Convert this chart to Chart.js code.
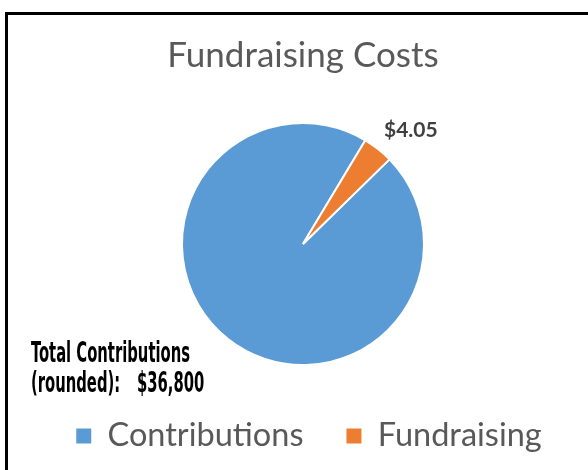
<!DOCTYPE html>
<html>
<head>
<meta charset="utf-8">
<script src="https://cdn.jsdelivr.net/npm/chart.js@4.4.0/dist/chart.umd.min.js"></script>
<style>
  html, body { margin: 0; padding: 0; background: #fff; }
  #wrap { position: relative; width: 588px; height: 470px; overflow: hidden; }
  #frame { position: absolute; left: 5px; top: 12px; width: 620px; height: 500px;
           border-left: 3px solid #000; border-top: 3px solid #000; }
  canvas { position: absolute; left: 0; top: 0; }
</style>
</head>
<body>
<div id="wrap">
  <canvas id="pieChart" width="588" height="470"></canvas>
  <div id="frame"></div>
</div>
<script>
// chart data
const categories = ['Contributions', 'Fundraising'];
const values = [95.95, 4.05];
const sliceColors = ['#5B9BD5', '#ED7D31'];
const costLabel = '$4.05';
const noteLines = ['Total Contributions', '(rounded):', '$36,800'];

// legend sits a bit right of the pie centre in the original
const legendShift = {
  id: 'legendShift',
  afterLayout(chart) {
    chart.legend.left += 6;
    chart.legend.right += 6;
  }
};

// $4.05 label outside the orange slice + the total note bottom left
const annotations = {
  id: 'annotations',
  afterDatasetsDraw(chart) {
    const ctx = chart.ctx;
    const arc = chart.getDatasetMeta(0).data[1];
    const p = arc.getProps(['x', 'y', 'startAngle', 'endAngle', 'outerRadius'], true);
    const mid = (p.startAngle + p.endAngle) / 2;
    const lx = p.x + Math.cos(mid) * (p.outerRadius + 8);
    const ly = p.y + Math.sin(mid) * (p.outerRadius + 8);
    ctx.save();
    ctx.font = 'bold 21px Lato';
    ctx.fillStyle = '#404040';
    ctx.textAlign = 'left';
    ctx.textBaseline = 'bottom';
    ctx.fillText(costLabel, lx + 1, ly - 2);
    ctx.restore();

    // condensed bold note
    ctx.save();
    ctx.font = 'bold 28px "Liberation Sans Narrow", "DejaVu Sans Condensed", sans-serif';
    ctx.fillStyle = '#000';
    ctx.textAlign = 'left';
    ctx.textBaseline = 'alphabetic';
    const w = ctx.measureText(noteLines[0]).width;
    const sx = Math.min(1, 159 / w);
    ctx.translate(31, 0);
    ctx.scale(sx, 1);
    ctx.fillText(noteLines[0], 0, 362);
    ctx.fillText(noteLines[1], 0, 392);
    ctx.fillText(noteLines[2], (137 - 31) / sx, 392);
    ctx.restore();
  }
};

const makeChart = () => {
  Chart.defaults.font.family = 'Lato';
  Chart.defaults.color = '#595959';
  const baseLabels = Chart.overrides.pie.plugins.legend.labels.generateLabels;
  new Chart(document.getElementById('pieChart'), {
    type: 'pie',
    data: {
      labels: categories,
      datasets: [{
        data: values,
        backgroundColor: sliceColors,
        borderColor: '#fff',
        borderWidth: 2
      }]
    },
    options: {
      responsive: false,
      animation: false,
      rotation: 45.6,
      layout: { padding: { left: 18, right: 0, top: 0, bottom: 7.75 } },
      plugins: {
        tooltip: { enabled: false },
        title: {
          display: true,
          text: 'Fundraising Costs',
          color: '#595959',
          font: { size: 35, weight: 'normal', lineHeight: 1.2 },
          padding: { top: 35, bottom: 45 }
        },
        legend: {
          position: 'bottom',
          title: { display: true, text: ' ', padding: 0, font: { size: 10.75, lineHeight: 1 } },
          labels: {
            boxWidth: 15,
            boxHeight: 15,
            padding: 43,
            color: '#595959',
            font: { size: 32.5 },
            generateLabels: (chart) => baseLabels(chart).map(item => ({ ...item, lineWidth: 0 }))
          }
        }
      }
    },
    plugins: [legendShift, annotations]
  });
};

window.addEventListener('load', () => {
  Promise.all([
    document.fonts.load('35px Lato'),
    document.fonts.load('bold 21px Lato'),
    document.fonts.load('bold 28px "Liberation Sans Narrow"')
  ]).catch(() => {}).then(makeChart);
});
</script>
</body>
</html>
